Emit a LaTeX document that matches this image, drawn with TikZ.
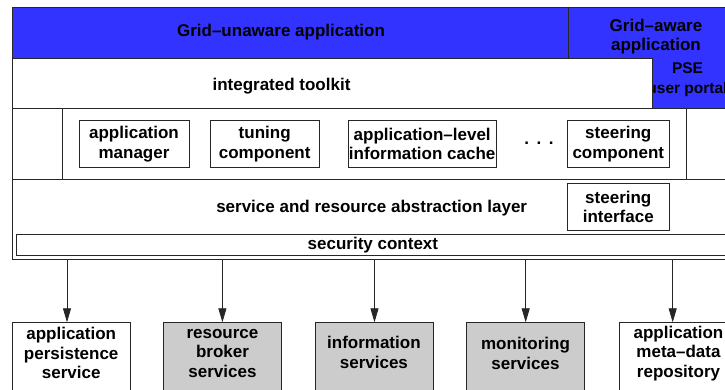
\documentclass[tikz,border=0pt]{standalone}
\usepackage{fontspec}
\setmainfont{Liberation Sans}
\usepackage{tikz}
\usetikzlibrary{positioning}
\usetikzlibrary{arrows.meta}
\definecolor{grid_blue}{RGB}{51,51,255}
\definecolor{service_gray}{RGB}{204,204,204}
\tikzset{my_diagram/.style={x=1pt,y=-1pt,font=\fontsize{17}{19.5}\selectfont\bfseries}}
\tikzset{my_layer/.style={draw=black!85,line width=0.8pt}}
\tikzset{my_label/.style={align=center,inner sep=0pt}}
\tikzset{my_component/.style={draw=black!85,line width=0.8pt,align=center,inner sep=0pt,minimum height=46.3pt}}
\tikzset{my_service/.style={draw=black!85,line width=0.8pt,anchor=north,minimum width=118pt,minimum height=80pt}}
\tikzset{my_arrow/.style={-{Triangle[length=14pt,width=8pt]},line width=0.8pt,color=black!85}}

\begin{document}
\begin{tikzpicture}[my_diagram]
    \useasboundingbox (0,0) rectangle (725,389);
    %\draw[help lines] (0,0) grid (725,389);

    % application layers
    \draw[my_layer, fill=grid_blue] (12,7) rectangle (568,58);
    \draw[my_layer, fill=grid_blue] (568,7) rectangle (745,108);
    \node[my_label, font=\fontsize{15.5}{20}\selectfont\bfseries] (pse_text) at (687.5,79.5) {PSE\\user portal};
    \draw[my_layer, fill=white] (12,58) rectangle (652,108);
    \draw[my_layer] (62,108) rectangle (686,179.3);
    \draw[my_layer] (12,179.3) -- (745,179.3);
    \draw[my_layer] (16,234.3) rectangle (745,255);
    \draw[my_layer] (12,7) rectangle (745,259.3);

    \node[my_label] (unaware_text) at (281,32) {Grid\textendash unaware application};
    \node[my_label] (aware_text) at (656,36.5) {Grid\textendash aware\\application};
    \node[my_label] (toolkit_text) at (281.5,86) {integrated toolkit};
    \node[my_label] (abstraction_text) at (371.7,208.3) {service and resource abstraction layer};
    \node[my_label] (security_text) at (372.9,245.3) {security context};

    % toolkit components
    \node[my_component, minimum width=110pt] (app_manager) at (134,143.9) {application\\manager};
    \node[my_component, minimum width=109.3pt] (tuning) at (264.7,143.9) {tuning\\component};
    \node[my_component, minimum width=147.7pt] (info_cache) at (422.2,143.9) {application\textendash level\\information cache};
    \node[my_label] (dots) at (539,143.3) {.\hspace{7.5pt}.\hspace{7.5pt}.};
    \node[my_component, minimum width=101.3pt] (steering_comp) at (618.3,143.9) {steering\\component};
    \node[my_component, minimum width=101.3pt, minimum height=46.7pt] (steering_int) at (618.3,206.7) {steering\\interface};

    % grid services
    \node[my_service] (persistence) at (71.2,322.3) {};
    \node[my_service, fill=service_gray] (broker) at (222.5,322.3) {};
    \node[my_service, fill=service_gray] (information) at (373.9,322.3) {};
    \node[my_service, fill=service_gray] (monitoring) at (525.5,322.3) {};
    \node[my_service] (repository) at (678.5,322.3) {};
    \node[my_label] (persistence_text) at ([yshift=-31pt]persistence.north) {application\\persistence\\service};
    \node[my_label] (broker_text) at ([yshift=-31pt]broker.north) {resource\\broker\\services};
    \node[my_label] (information_text) at ([yshift=-30pt]information.north) {information\\services};
    \node[my_label] (monitoring_text) at ([yshift=-31pt]monitoring.north) {monitoring\\services};
    \node[my_label] (repository_text) at ([yshift=-31pt]repository.north) {application\\meta\textendash data\\repository};

    \coordinate (out_persistence) at (67,259.3);
    \coordinate (out_broker) at (222.4,259.3);
    \coordinate (out_information) at (374.5,259.3);
    \coordinate (out_monitoring) at (525.7,259.3);
    \coordinate (out_repository) at (672.7,259.3);

    \path[my_arrow]
        (out_persistence) edge (out_persistence |- persistence.north)
        (out_broker) edge (out_broker |- broker.north)
        (out_information) edge (out_information |- information.north)
        (out_monitoring) edge (out_monitoring |- monitoring.north)
        (out_repository) edge (out_repository |- repository.north)
    ;
\end{tikzpicture}
\end{document}
